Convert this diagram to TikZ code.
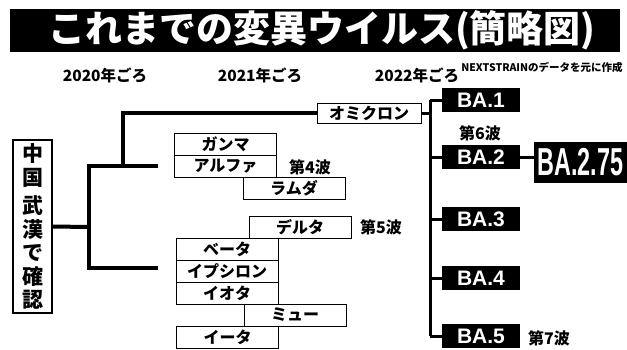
\documentclass[tikz,border=0pt]{standalone}
\usepackage{fontspec}
\setmainfont{Noto Sans CJK JP}
\newfontfamily\latin{Liberation Sans}

\begin{document}
\begin{tikzpicture}[x=1pt, y=-1pt,
  virus/.style={draw, line width=1pt, minimum width=102, minimum height=22, inner sep=0pt,
    font=\bfseries\fontsize{16}{16}\selectfont},
  wave/.style={font=\bfseries\fontsize{16}{16}\selectfont},
  year/.style={font=\bfseries\fontsize{15.5}{15.5}\selectfont},
  ba/.style={fill=black, text=white, minimum width=78, minimum height=24, inner sep=0pt,
    font=\latin\bfseries\fontsize{21}{21}\selectfont},
  tree/.style={line width=4pt},
  stem/.style={line width=3pt}]

\useasboundingbox (0,0) rectangle (627,349);

% title bar
\fill (10,9) rectangle (620,52);
\node[text=white, font=\bfseries\fontsize{37}{37}\selectfont] (title) at (322,30) {これまでの変異ウイルス(簡略図)};

% years and source
\node[year] (y2020) at (105,75) {2020年ごろ};
\node[year] (y2021) at (260,75) {2021年ごろ};
\node[year] (y2022) at (417,75) {2022年ごろ};
\node[font=\bfseries\fontsize{10.5}{10.5}\selectfont] (source) at (542,67) {NEXTSTRAINのデータを元に作成};

% origin
\node[draw, line width=1.2pt, minimum width=39, minimum height=173, inner sep=0pt, align=center,
  font=\bfseries\fontsize{21}{23.5}\selectfont] (china) at (32.5,226.5) {中\\国\\[5pt]武\\漢\\で\\確\\認};

% variants
\node[virus, minimum width=104, minimum height=20] (omicron) at (369,113) {オミクロン};
\node[virus] (gamma) at (225.5,144) {ガンマ};
\node[virus] (alpha) at (225.5,166) {アルファ};
\node[virus] (lambda) at (294,188) {ラムダ};
\node[virus] (delta) at (300,227) {デルタ};
\node[virus] (beta) at (227,249) {ベータ};
\node[virus] (epsilon) at (227,271) {イプシロン};
\node[virus] (iota) at (227,293) {イオタ};
\node[virus] (mu) at (295,315) {ミュー};
\node[virus] (eta) at (227.5,337) {イータ};

\node[wave] (wave4) at (310,167) {第4波};
\node[wave] (wave5) at (381,227) {第5波};
\node[wave] (wave6) at (480,133) {第6波};
\node[wave] (wave7) at (549,338) {第7波};

% left tree
\coordinate (root) at (89,227);
\coordinate (up) at (89,166);
\coordinate (down) at (89,268);
\coordinate (upend) at (158,166);
\coordinate (downend) at (158,268);
\coordinate (fork) at (123,166);
\draw[tree] (china.east) -- (root);
\draw[tree] (upend) -- (up) -- (down) -- (downend);
\draw[tree] (fork) |- (omicron.west);

% omicron lineages
\foreach \i/\y in {1/100,2/157,3/219,4/278,5/336}
{
  \node[ba] (ba\i) at (481,\y) {BA.\i};
}
\node[fill=black, text=white, minimum width=93, minimum height=41, inner sep=0pt,
  font=\latin\bfseries\fontsize{39}{39}\selectfont] (ba275) at (580.5,162.5) {\scalebox{0.6}[1]{BA.2.75}};

\coordinate (trunk) at (430,0);
\draw[stem] (omicron.east) -- (omicron.east -| trunk);
\draw[stem] (ba1.west -| trunk) -- (ba5.west -| trunk);
\foreach \i in {1,...,5}
  \draw[stem] (ba\i.west -| trunk) -- (ba\i.west);
\draw[stem] (ba2.east) -- (ba275.west |- ba2.east);
\end{tikzpicture}
\end{document}
